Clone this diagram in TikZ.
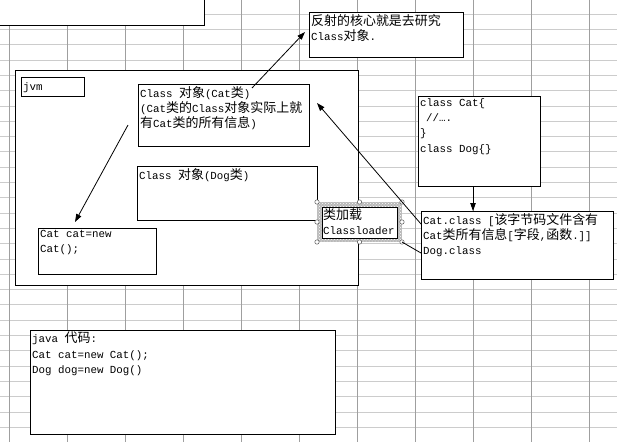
\documentclass[tikz,border=0pt]{standalone}
\usepackage{fontspec}
\setmainfont{Liberation Mono}
\newfontfamily\cjkfont[Scale=1.2]{Noto Sans CJK SC}
\newcommand{\zh}[1]{{\cjkfont #1}}
\usetikzlibrary{arrows.meta, patterns, calc}

\begin{document}
\begin{tikzpicture}[
  x=1pt, y=-1pt,
  font=\fontsize{10.8}{15.4}\selectfont,
  >={Triangle[length=8pt,width=5.5pt]},
  gridh/.style={gray!40, line width=0.6pt},
  gridv/.style={gray!75, line width=0.6pt},
  box/.style={
    rectangle, draw=black, line width=0.8pt, fill=white,
    anchor=north west, inner sep=0pt, outer sep=0pt
  },
  txt/.style={anchor=north west, align=left, inner sep=2pt,
    execute at begin node=\strut},
  arrow/.style={->, line width=0.8pt},
  handle/.style={draw=gray!70!black, fill=white, line width=0.5pt}
]
\useasboundingbox (0,0) rectangle (617,442);
\clip (0,0) rectangle (617,442);

% Spreadsheet grid
\foreach \gy in {14,29.3,...,440} \draw[gridh] (0,\gy) -- (617,\gy);
\foreach \gx in {9,67,...,589} \draw[gridv] (\gx,0) -- (\gx,442);

% Boxes
\node[box, anchor=south east, minimum width=210, minimum height=30] (sheet) at (204,25) {};

\node[box, minimum width=154, minimum height=45] (note) at (309,12) {};
\node[txt] (noteText) at (note.north west) {\zh{反射的核心就是去研究}\\Class\zh{对象}.};

\node[box, minimum width=343, minimum height=215] (jvm) at (15,70) {};
\node[box, minimum width=63, minimum height=19] (jvmTag) at (21,77) {};
\node[txt] (jvmText) at ([yshift=-1pt]jvmTag.north west) {jvm};

\node[box, minimum width=171, minimum height=62] (catObj) at (138,84) {};
\node[txt] (catObjText) at (catObj.north west)
  {Class \zh{对象}(Cat\zh{类})\\(Cat\zh{类的}Class\zh{对象实际上就}\\\zh{有}Cat\zh{类的所有信息})};

\node[box, minimum width=180, minimum height=54] (dogObj) at (137,166) {};
\node[txt] (dogObjText) at (dogObj.north west) {Class \zh{对象}(Dog\zh{类})};

\node[box, minimum width=118, minimum height=46] (newCat) at (38,228) {};
\node[txt] (newCatText) at (newCat.north west) {Cat cat=new\\Cat();};

% class loader (selected)
\coordinate (selNW) at (317,202);
\coordinate (selSE) at (402,242);
\fill[gray!55] (selNW) rectangle (selSE);
\fill[pattern=crosshatch dots, pattern color=white] (selNW) rectangle (selSE);
\node[box, minimum width=75, minimum height=31] (loader) at (322,207) {};
\node[txt, inner sep=1pt] (loaderText) at (loader.north west) {\zh{类加载}\\Classloader};
\foreach \hx/\hy in {317/202, 359.5/202, 402/202, 317/222, 402/222, 317/242, 359.5/242, 402/242}
  \draw[handle] (\hx,\hy) circle (2.2);

\node[box, minimum width=122, minimum height=90] (src) at (418,96) {};
\node[txt] (srcText) at (src.north west)
  {class Cat\{\\\hspace*{6pt}//….\\\}\\class Dog\{\}};

\node[box, minimum width=192, minimum height=68] (bytecode) at (421,211) {};
\node[txt] (bytecodeText) at (bytecode.north west)
  {Cat.class [\zh{该字节码文件含有}\\Cat\zh{类所有信息}[\zh{字段},\zh{函数}.]]\\Dog.class};

\node[box, minimum width=305, minimum height=104] (javaCode) at (30,330) {};
\node[txt] (javaCodeText) at (javaCode.north west)
  {java \zh{代码}:\\Cat cat=new Cat();\\Dog dog=new Dog()};

% Connectors
\coordinate (catObjTail) at (252,88);
\coordinate (noteTip) at (305,32);
\coordinate (catRefTail) at (128,125);
\coordinate (newCatTip) at (75,222);
\coordinate (byteTail) at (421,224);
\coordinate (catObjTip) at (317,103);
\coordinate (srcArrowX) at (473,0);
\coordinate (dogLine) at (421,253);

\draw[arrow] (catObjTail) -- (noteTip);
\draw[arrow] (catRefTail) -- (newCatTip);
\draw[arrow] (byteTail) -- (catObjTip);
\draw[arrow] (src.south -| srcArrowX) -- (bytecode.north -| srcArrowX);
\draw[line width=0.8pt] (selSE) -- (dogLine);

\end{tikzpicture}
\end{document}
